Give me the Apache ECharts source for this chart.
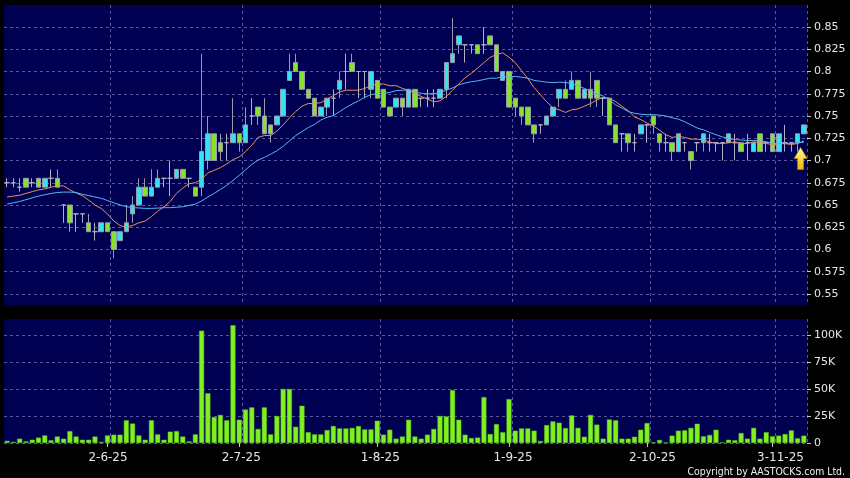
<!DOCTYPE html>
<html><head><meta charset="utf-8">
<script src="https://cdn.jsdelivr.net/npm/echarts@6/dist/echarts.min.js"></script>
<style>html,body{margin:0;padding:0;background:#000;}#c{width:850px;height:478px;}</style>
</head><body><div id="c"></div>
<script>
// ---- data ----
const firstDate = '2025-05-09';
const holidays = ['2025-07-01', '2025-10-01', '2025-10-07', '2025-10-29'];
const barCount = 128;
const labelDates = ['2025-06-02', '2025-07-02', '2025-08-01', '2025-09-01', '2025-10-02', '2025-11-03'];
const priceTicks = [0.55, 0.575, 0.6, 0.625, 0.65, 0.675, 0.7, 0.725, 0.75, 0.775, 0.8, 0.825, 0.85];
const volumeTicks = [0, 25000, 50000, 75000, 100000];

const opens = [.675,.675,.67,.68,.675,.68,.67,.68,.68,.65,.65,.64,.64,.63,.62,.62,.63,.62,.61,.62,
.64,.65,.67,.66,.67,.68,.68,.68,.69,.68,.67,.67,.70,.73,.72,.72,.72,.73,.72,.75,
.76,.75,.74,.74,.75,.79,.81,.80,.78,.77,.75,.76,.77,.78,.80,.81,.80,.80,.78,.79,
.78,.76,.76,.77,.76,.78,.77,.77,.77,.77,.78,.81,.83,.83,.83,.83,.83,.84,.83,.79,
.80,.77,.76,.76,.74,.74,.74,.75,.77,.78,.78,.79,.77,.78,.79,.77,.77,.74,.73,.73,
.72,.73,.74,.75,.73,.72,.72,.71,.72,.71,.72,.72,.72,.72,.72,.72,.72,.72,.72,.71,
.73,.72,.73,.71,.72,.72,.72,.73];
const closes = [.675,.675,.67,.67,.675,.67,.68,.68,.67,.65,.63,.64,.64,.62,.62,.63,.62,.60,.62,.63,
.65,.67,.66,.67,.68,.68,.68,.69,.68,.68,.66,.71,.73,.70,.71,.72,.73,.72,.74,.75,
.75,.73,.73,.75,.78,.80,.80,.78,.77,.75,.76,.77,.77,.79,.80,.80,.80,.80,.80,.77,
.76,.75,.77,.76,.78,.76,.77,.77,.77,.78,.81,.82,.84,.83,.83,.82,.83,.83,.80,.80,
.76,.76,.75,.74,.73,.74,.75,.76,.78,.77,.79,.77,.78,.77,.77,.77,.74,.72,.73,.72,
.72,.74,.74,.74,.72,.72,.71,.73,.72,.70,.72,.73,.72,.72,.72,.73,.72,.71,.72,.72,
.71,.72,.71,.73,.72,.72,.73,.74];
const lows = [.67,.67,.665,.67,.67,.67,.67,.67,.67,.63,.62,.62,.63,.62,.61,.62,.62,.59,.61,.62,
.63,.65,.66,.66,.67,.67,.66,.68,.68,.67,.66,.66,.69,.70,.70,.70,.72,.71,.72,.74,
.74,.73,.72,.74,.75,.79,.80,.78,.77,.75,.75,.75,.75,.77,.78,.80,.77,.77,.77,.77,
.76,.75,.76,.75,.76,.76,.76,.76,.76,.77,.77,.81,.82,.81,.82,.82,.82,.83,.80,.79,
.76,.75,.74,.74,.72,.73,.74,.75,.76,.77,.78,.77,.77,.76,.76,.75,.74,.72,.71,.71,
.71,.73,.72,.73,.71,.71,.70,.71,.71,.69,.71,.71,.71,.71,.70,.72,.70,.71,.70,.71,
.71,.71,.71,.71,.71,.71,.71,.73];
const highs = [.68,.68,.68,.68,.68,.68,.68,.69,.69,.65,.65,.64,.64,.64,.63,.63,.63,.62,.62,.65,
.66,.68,.68,.69,.69,.68,.70,.69,.69,.68,.67,.82,.75,.73,.73,.73,.77,.73,.76,.77,
.76,.77,.74,.75,.78,.82,.82,.80,.78,.77,.76,.77,.78,.80,.82,.82,.80,.80,.80,.79,
.78,.76,.77,.77,.78,.78,.77,.78,.78,.78,.81,.86,.84,.83,.83,.83,.85,.84,.83,.80,
.80,.77,.76,.76,.74,.74,.75,.76,.78,.79,.80,.79,.78,.80,.79,.77,.77,.74,.73,.73,
.73,.74,.74,.75,.73,.73,.72,.73,.72,.71,.72,.73,.73,.72,.72,.73,.73,.72,.73,.72,
.73,.72,.73,.73,.74,.72,.73,.74];
const volumes = [2000,1000,4000,1500,3000,5000,7000,2500,6000,4000,11000,6000,3000,3000,6000,1000,7000,7700,7700,21000,
18000,7000,3000,21000,8000,3000,10500,11000,6000,1500,8000,104000,46000,24000,26000,21000,109000,21500,31000,33000,
13000,33000,8000,25000,50000,50000,15000,34500,10000,8000,8000,12000,15700,13500,13500,14000,15700,12600,12600,20600,
7700,12300,4000,6000,21500,6000,4000,7700,13000,25000,24600,49000,21500,7700,4600,5000,42500,8300,17500,10000,
40600,11400,13500,13500,11400,1800,16600,20000,18800,13800,25500,14000,5800,26000,17000,4000,21800,21000,4000,4000,
5800,12300,18500,600,2800,300,6800,11400,11700,14000,17800,6200,7400,12300,600,3000,2500,9200,4000,14000,
4000,10000,6200,6800,8300,11700,4300,6800];
// moving-average values for the bars whose window starts before the chart
const ma10Head = [.659,.660,.661,.663,.665,.667,.668,.670,.6715];
const ma20Head = [.651,.6525,.654,.656,.658,.660,.6615,.663,.664,.6645,.6645,.664,.662,.6605,.659,.6575,.655,.6525,.650];

// ---- build categories (trading days) ----
function buildDates() {
  const out = [];
  const d = new Date(firstDate + 'T00:00:00Z');
  while (out.length < barCount) {
    const iso = d.toISOString().slice(0, 10);
    const wd = d.getUTCDay();
    if (wd !== 0 && wd !== 6 && holidays.indexOf(iso) < 0) out.push(iso);
    d.setUTCDate(d.getUTCDate() + 1);
  }
  return out;
}
const dates = buildDates();
const labelIdx = labelDates.map(s => dates.indexOf(s));
const splitIdx = labelIdx.map(i => i + 1);
function shortDate(iso) {
  const p = iso.split('-');
  return (+p[2]) + '-' + (+p[1]) + '-' + p[0].slice(2);
}
function movingAvg(n, head) {
  return closes.map((c, i) => {
    if (i < n - 1) return head[i];
    let s = 0;
    for (let k = i - n + 1; k <= i; k++) s += closes[k];
    return +(s / n).toFixed(4);
  });
}
const ohlc = opens.map((o, i) => [o, closes[i], lows[i], highs[i]]);

// ---- chart ----
const navy = '#000052';
const gridLineStyle = { color: '#58589a', type: [3, 3], width: 1 };
const labelStyle = { color: '#e6e6e6', fontSize: 11, fontFamily: 'DejaVu Sans' };
// the source draws its date labels a little right of their bars, more so further right
const labelShift = [1, 4, 6, 8, 11, 16];
const rich = {};
labelShift.forEach((p, k) => { rich['p' + k] = { padding: [0, 0, 0, p], color: '#e6e6e6', fontSize: 12, fontFamily: 'DejaVu Sans' }; });

const chart = echarts.init(document.getElementById('c'), null, { renderer: 'canvas' });
chart.setOption({
  backgroundColor: '#000',
  animation: false,
  grid: [
    { left: 4, right: 43, top: 5, height: 300, show: true, backgroundColor: navy, borderWidth: 0 },
    { left: 4, right: 43, top: 319, height: 124, show: true, backgroundColor: navy, borderWidth: 0 }
  ],
  xAxis: [
    { type: 'category', gridIndex: 0, data: dates, boundaryGap: true,
      axisLine: { show: false }, axisTick: { show: false }, axisLabel: { show: false },
      splitLine: { show: true, interval: (i) => splitIdx.indexOf(i) >= 0, lineStyle: gridLineStyle } },
    { type: 'category', gridIndex: 1, data: dates, boundaryGap: true,
      axisLine: { show: false },
      axisTick: { show: true, alignWithLabel: true, length: 4, interval: (i) => labelIdx.indexOf(i) >= 0,
                  lineStyle: { color: '#c8c8c8' } },
      axisLabel: { show: true, interval: (i) => labelIdx.indexOf(i) >= 0, margin: 9,
                   color: '#e6e6e6', fontSize: 12, fontFamily: 'DejaVu Sans', rich: rich,
                   formatter: (v) => '{p' + labelDates.indexOf(v) + '|' + shortDate(v) + '}' },
      splitLine: { show: true, interval: (i) => splitIdx.indexOf(i) >= 0, lineStyle: gridLineStyle } }
  ],
  yAxis: [
    { type: 'value', gridIndex: 0, position: 'right', min: 0.53764, max: 0.87472,
      axisLine: { show: false },
      axisTick: { show: true, length: 4, customValues: priceTicks, lineStyle: { color: '#c8c8c8' } },
      axisLabel: Object.assign({ customValues: priceTicks, margin: 7, formatter: (v) => String(+v.toFixed(3)) }, labelStyle),
      splitLine: { show: true, lineStyle: gridLineStyle } },
    { type: 'value', gridIndex: 1, position: 'right', min: 0, max: 114800,
      axisLine: { show: false },
      axisTick: { show: true, length: 4, customValues: volumeTicks, lineStyle: { color: '#c8c8c8' } },
      axisLabel: Object.assign({ customValues: volumeTicks, margin: 7, formatter: (v) => v === 0 ? '0' : (v / 1000) + 'K' }, labelStyle),
      splitLine: { show: true, lineStyle: gridLineStyle } }
  ],
  series: [
    { type: 'candlestick', xAxisIndex: 0, yAxisIndex: 0, data: ohlc, barWidth: 5,
      itemStyle: { color: '#33e3f0', color0: '#86e22a', borderColor: '#9a9aae', borderColor0: '#9a9aae',
                   borderColorDoji: '#b0b0c4', borderWidth: 1 },
      markPoint: { silent: true, label: { show: false }, data: [
        { coord: [barCount - 2, 0.7022], symbol: 'path://M6.5,0 L13,11 L9.5,11 L9.5,22 L3.5,22 L3.5,11 L0,11 Z',
          symbolSize: [13, 22], symbolOffset: [3, 0],
          itemStyle: { color: new echarts.graphic.LinearGradient(0, 0, 0, 1, [
            { offset: 0, color: '#fff7a0' }, { offset: 1, color: '#f2b400' }]), borderColor: '#c88a00', borderWidth: 0.5 } }
      ] } },
    { type: 'line', xAxisIndex: 0, yAxisIndex: 0, data: movingAvg(10, ma10Head), showSymbol: false,
      lineStyle: { color: '#e8925c', width: 1 }, z: 3 },
    { type: 'line', xAxisIndex: 0, yAxisIndex: 0, data: movingAvg(20, ma20Head), showSymbol: false,
      lineStyle: { color: '#58b6ee', width: 1 }, z: 3 },
    { type: 'bar', xAxisIndex: 1, yAxisIndex: 1, data: volumes, barWidth: 5,
      itemStyle: { color: '#80f020', borderColor: '#5cc014', borderWidth: 0.5 } }
  ],
  graphic: [
    { type: 'text', right: 5, bottom: 1,
      style: { text: 'Copyright by AASTOCKS.com Ltd.', fill: '#f0f0f0', font: '10.4px "DejaVu Sans Condensed", "DejaVu Sans"' } }
  ]
});
</script>
</body></html>
